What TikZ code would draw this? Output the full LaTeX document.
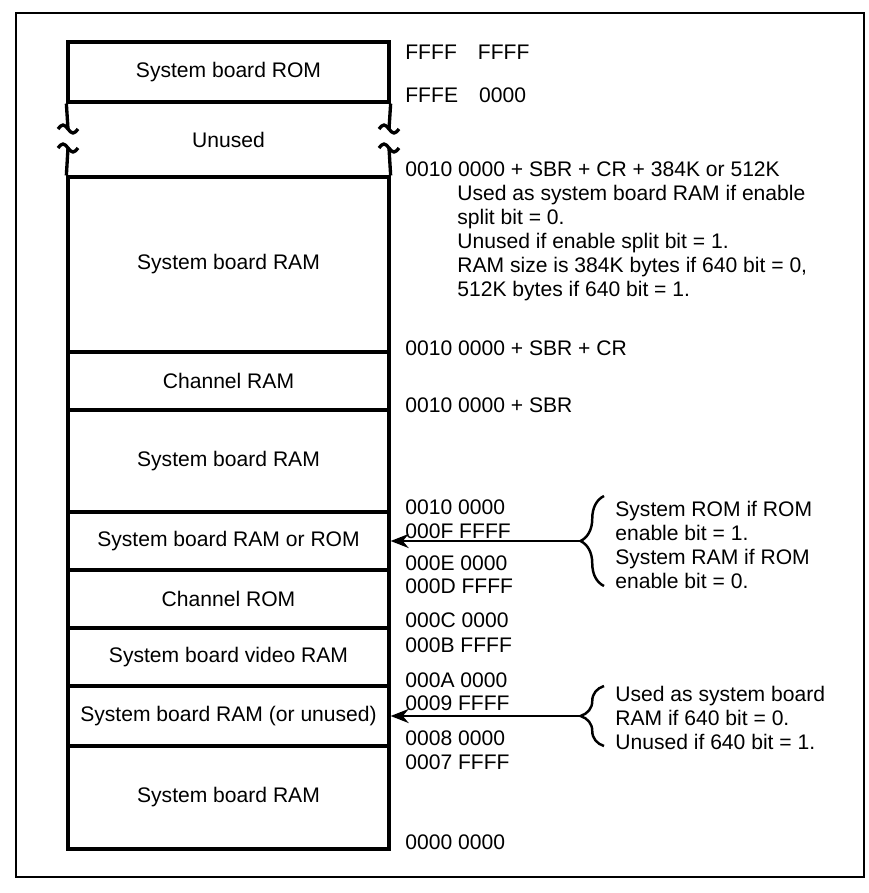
\documentclass[tikz,border=0pt]{standalone}
\usepackage{fontspec}
\setmainfont{Liberation Sans}
\usetikzlibrary{arrows.meta, decorations.pathreplacing}

\begin{document}
\begin{tikzpicture}[x=0.02cm, y=-0.02cm,
        region/.style={
            rectangle,
            draw=black,
            line width=1.9pt,
            minimum width=6.42cm,
            inner sep=0pt,
            align=center,
            font=\fontsize{12}{14}\selectfont
        },
        hole/.style={
            region,
            draw=none
        },
        addr/.style={
            anchor=west,
            inner sep=0pt,
            font=\fontsize{12}{14}\selectfont
        },
        note/.style={
            anchor=west,
            inner sep=0pt,
            align=left,
            font=\fontsize{12}{13.6}\selectfont
        },
        wall/.style={
            line width=1.9pt
        },
        curly/.style={
            decorate,
            decoration={brace, amplitude=0.47cm},
            line width=1.4pt
        },
        pointer/.style={
            -{Stealth[length=3.6mm, width=2.8mm]},
            line width=1.4pt
        }
    ]
        \useasboundingbox (0,0) rectangle (869,893);
        \draw[line width=1pt] (16,13) rectangle (864,877);

        % memory map, top to bottom
        \node[region, minimum height=1.2cm] (rom) at (228.5,72) {System board ROM};
        \node[hole, minimum height=1.5cm] (unused) at (228.5,139.5) {Unused};
        \node[region, minimum height=3.5cm] (ramhigh) at (228.5,264.5) {System board RAM};
        \node[region, minimum height=1.16cm] (chram) at (228.5,381) {Channel RAM};
        \node[region, minimum height=2.04cm] (rammid) at (228.5,461) {System board RAM};
        \node[region, minimum height=1.16cm] (ramrom) at (228.5,541) {System board RAM or ROM};
        \node[region, minimum height=1.16cm] (chrom) at (228.5,599) {Channel ROM};
        \node[region, minimum height=1.16cm] (video) at (228.5,657) {System board video RAM};
        \node[region, minimum height=1.2cm] (ramopt) at (228.5,716) {System board RAM (or unused)};
        \node[region, minimum height=2.06cm] (ramlow) at (228.5,797.5) {System board RAM};

        % broken sides of the unused block
        \draw[wall] (rom.south west) -- (68,129);
        \draw[wall] (58,129) sin (63,125) cos (68,129) sin (73,133) cos (78,129);
        \draw[wall] (58,148) sin (63,144) cos (68,148) sin (73,152) cos (78,148);
        \draw[wall] (68,148) -- (ramhigh.north west);
        \draw[wall] (rom.south east) -- (389,129);
        \draw[wall] (379,129) sin (384,125) cos (389,129) sin (394,133) cos (399,129);
        \draw[wall] (379,148) sin (384,144) cos (389,148) sin (394,152) cos (399,148);
        \draw[wall] (389,148) -- (ramhigh.north east);

        % addresses
        \node[addr] (a1) at (405,52) {FFFF\quad FFFF};
        \node[addr] (a2) at (405,95) {FFFE\quad 0000};
        \node[addr] (a3) at (405,169) {0010 0000 + SBR + CR + 384K or 512K};
        \node[note] (n1) at (457,243) {Used as system board RAM if enable\\split bit = 0.\\Unused if enable split bit = 1.\\RAM size is 384K bytes if 640 bit = 0,\\512K bytes if 640 bit = 1.};
        \node[addr] (a4) at (405,348) {0010 0000 + SBR + CR};
        \node[addr] (a5) at (405,405) {0010 0000 + SBR};
        \node[addr] (a6) at (405,507) {0010 0000};
        \node[addr] (a7) at (405,531) {000F FFFF};
        \node[addr] (a8) at (405,563) {000E 0000};
        \node[addr] (a9) at (405,586) {000D FFFF};
        \node[addr] (a10) at (405,620) {000C 0000};
        \node[addr] (a11) at (405,645) {000B FFFF};
        \node[addr] (a12) at (405,680) {000A 0000};
        \node[addr] (a13) at (405,703) {0009 FFFF};
        \node[addr] (a14) at (405,738) {0008 0000};
        \node[addr] (a15) at (405,762) {0007 FFFF};
        \node[addr] (a16) at (405,842) {0000 0000};

        % side notes with braces
        \draw[curly] (604,586) -- (604,496);
        \coordinate (tipa) at (580.5,541);
        \node[note] (n2) at (615,545) {System ROM if ROM\\enable bit = 1.\\System RAM if ROM\\enable bit = 0.};
        \draw[pointer] (tipa) -- (ramrom.east);

        \draw[curly] (604,746) -- (604,686);
        \coordinate (tipb) at (580.5,716);
        \node[note] (n3) at (615,718) {Used as system board\\RAM if 640 bit = 0.\\Unused if 640 bit = 1.};
        \draw[pointer] (tipb) -- (ramopt.east);
    \end{tikzpicture}
\end{document}
